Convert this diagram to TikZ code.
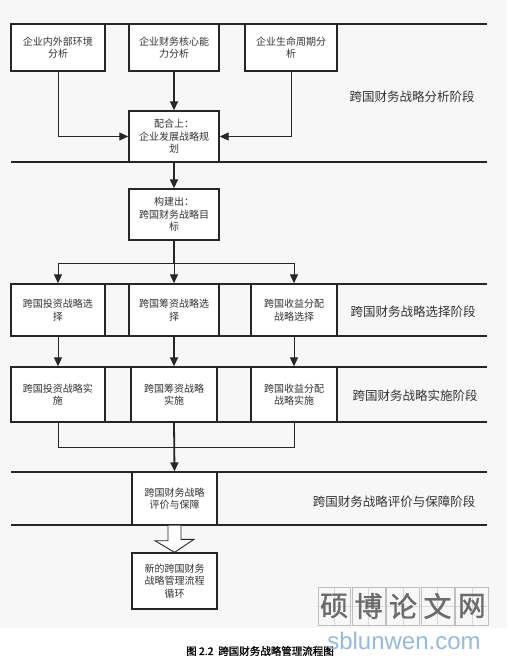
\documentclass[tikz,border=0pt]{standalone}
\usepackage{fontspec}
\setmainfont{Noto Sans CJK SC}
\newfontfamily\cjkb[FakeBold=1.2]{Noto Sans CJK SC}
\newfontfamily\wmfont{Liberation Sans}
\usetikzlibrary{arrows.meta}
\tikzset{
  box/.style={draw=black!85, line width=1.4pt, fill=white, align=center,
    font=\fontsize{10}{12.5}\selectfont, inner sep=0pt, text=black!80},
  hline/.style={draw=black!85, line width=1.1pt},
  arr/.style={draw=black!85, line width=1pt, -{Triangle[length=9pt,width=8pt]}},
  arrthick/.style={draw=black!85, line width=1.8pt, -{Triangle[length=9pt,width=8pt]}},
  conn/.style={draw=black!85, line width=1pt},
  stage/.style={font=\fontsize{12.5}{14}\selectfont, text=black!80},
  hollow/.style={draw=black!85, line width=0.9pt, fill=white, line join=miter},
  wmbox/.style={draw=black!25, line width=0.6pt},
  wmgrid/.style={draw=black!15, line width=0.4pt},
  wmchar/.style={font=\cjkb\fontsize{28}{30}\selectfont, text=black!58}
}
\begin{document}
\begin{tikzpicture}[x=1pt,y=-1pt]
\useasboundingbox (0,0) rectangle (507,659);
\fill[white] (0,0) rectangle (507,659);
\fill[black!3] (0,0) rectangle (507,628);

% stage lines
\foreach \yy in {24,162,284,336,367,422,472,525}
  \draw[hline] (11,\yy) -- (487,\yy);

% analysis stage
\node[box, minimum width=94pt, minimum height=47pt] (A1) at (58,47.5) {企业内外部环境\\分析};
\node[box, minimum width=90pt, minimum height=47pt] (A2) at (174,47.5) {企业财务核心能\\力分析};
\node[box, minimum width=92pt, minimum height=47pt] (A3) at (291,47.5) {企业生命周期分\\析};
\node[box, minimum width=90pt, minimum height=51pt] (B) at (174,136.5) {配合上：\\企业发展战略规\\划};
\node[box, minimum width=90pt, minimum height=51pt] (C) at (174,214.5) {构建出：\\跨国财务战略目\\标};

% selection stage
\node[box, minimum width=94pt, minimum height=52pt] (D1) at (58,310) {跨国投资战略选\\择};
\node[box, minimum width=90pt, minimum height=52pt] (D2) at (174,310) {跨国筹资战略选\\择};
\node[box, minimum width=86pt, minimum height=52pt] (D3) at (294,310) {跨国收益分配\\战略选择};

% implementation stage
\node[box, minimum width=94pt, minimum height=55pt] (E1) at (58,394.5) {跨国投资战略实\\施};
\node[box, minimum width=86pt, minimum height=55pt] (E2) at (174,394.5) {跨国筹资战略\\实施};
\node[box, minimum width=86pt, minimum height=55pt] (E3) at (294,394.5) {跨国收益分配\\战略实施};

% evaluation stage
\node[box, minimum width=85pt, minimum height=53pt] (F) at (174.5,498.5) {跨国财务战略\\评价与保障};
\node[box, minimum width=85pt, minimum height=56pt] (G) at (174.5,581) {新的跨国财务\\战略管理流程\\循环};

% stage labels
\node[stage] (L1) at (412,97) {跨国财务战略分析阶段};
\node[stage] (L2) at (413,312) {跨国财务战略选择阶段};
\node[stage] (L3) at (415,396) {跨国财务战略实施阶段};
\node[stage] (L4) at (394,502) {跨国财务战略评价与保障阶段};

% connectors
\draw[arr] (A1.south) |- (B.west);
\draw[arr] (A3.south) |- (B.east);
\draw[arrthick] (A2.south) -- (B.north);
\draw[arrthick] (B.south) -- (C.north);

\coordinate (sp) at (174,263);
\draw[arrthick, -] (C.south) -- (sp);
\draw[arr] (sp) -| (D1.north);
\draw[arr] (sp) -| (D3.north);
\draw[arr] (sp) -- (D2.north);

\draw[arr] (D1.south) -- (E1.north);
\draw[arrthick] (D2.south) -- (E2.north);
\draw[arr] (D3.south) -- (E3.north);

\coordinate (mg) at (174,447);
\draw[conn] (E1.south) |- (mg);
\draw[conn] (E3.south) |- (mg);
\draw[arrthick] (E2.south) -- (F.north);

% hollow block arrow F -> G
\draw[hollow] ([xshift=-6.5pt]F.south) -- ++(0,15) -- ++(-13,0) -- (G.north)
  -- ([xshift=19.5pt,yshift=13pt]G.north) -- ++(-13,0) -- ([xshift=6.5pt]F.south);

% caption
\node[font=\cjkb\fontsize{10.5}{12}\selectfont] (cap) at (260,651) {图 2.2\ \ 跨国财务战略管理流程图};

% watermark
\foreach \c [count=\i from 0] in {硕,博,论,文,网}{
  \pgfmathsetmacro{\xx}{317+\i*34.4}
  \draw[wmgrid] (\xx+17.2,587) -- (\xx+17.2,625) (\xx,606) -- (\xx+34.4,606);
  \draw[wmbox] (\xx+0.8,587) rectangle (\xx+33.6,625);
  \node[wmchar] at (\xx+17.2,606) {\c};
}
\node[font=\wmfont\fontsize{24}{26}\selectfont, text={rgb,255:red,150;green,185;blue,225}] (wm) at (404,641) {sblunwen.com};
\end{tikzpicture}
\end{document}
